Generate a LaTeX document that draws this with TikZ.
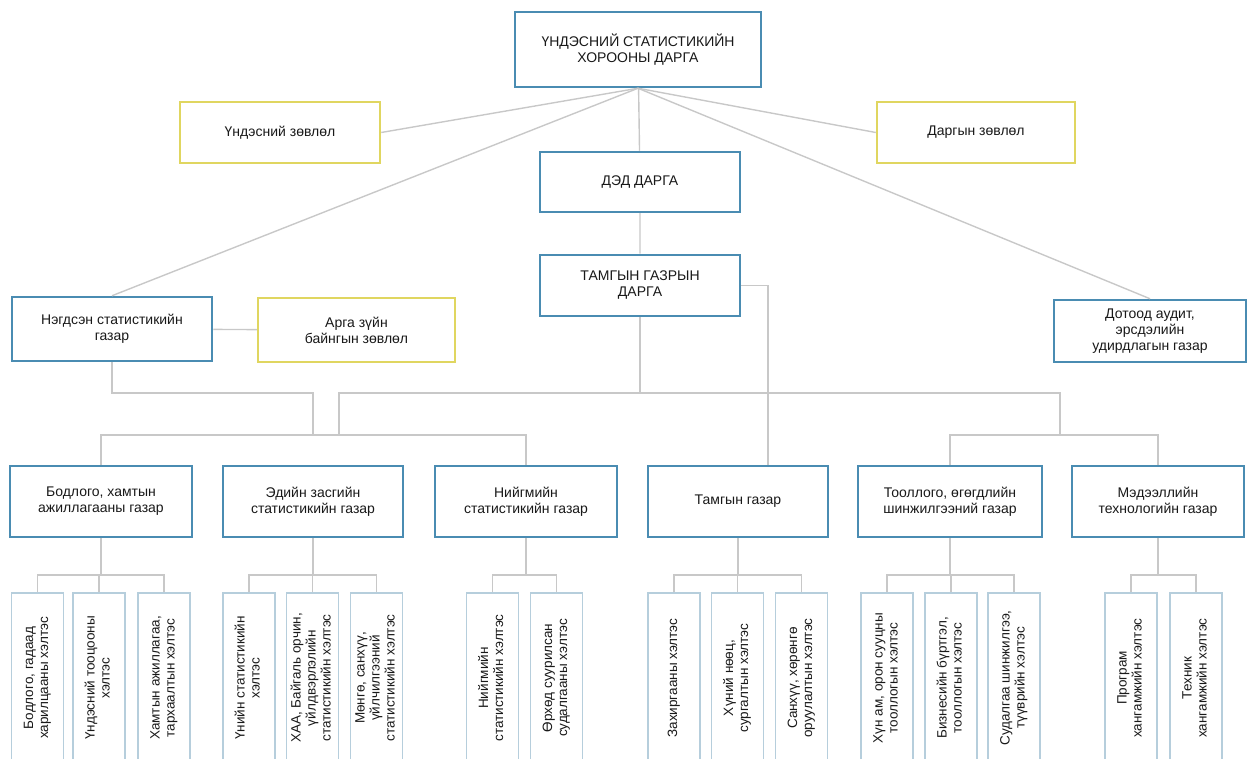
\documentclass[tikz,border=0pt]{standalone}
\usepackage{fontspec}
\setmainfont{Liberation Sans}
\usetikzlibrary{calc}

\definecolor{boxblue}{RGB}{74,140,178}
\definecolor{councilyellow}{RGB}{224,214,96}
\definecolor{unitblue}{RGB}{182,206,220}
\definecolor{linegray}{RGB}{200,200,200}
\definecolor{ink}{RGB}{25,25,25}

\newcommand{\vlabel}[1]{\rotatebox{90}{\begin{tabular}{@{}c@{}}#1\end{tabular}}}

\begin{document}
\begin{tikzpicture}[x=1pt,y=-1pt,
  every node/.style={align=center,text=ink,inner sep=2pt,
    font=\fontsize{14}{16}\selectfont},
  office/.style={draw=boxblue,line width=2.5pt,fill=white},
  council/.style={draw=councilyellow,line width=2.5pt,fill=white},
  unit/.style={draw=unitblue,line width=1.2pt,fill=white,inner sep=0pt,
    minimum width=52pt,minimum height=170pt,
    font=\fontsize{13.5}{15}\selectfont},
  link/.style={draw=linegray,line width=1.4pt}]
\useasboundingbox (0,0) rectangle (1248,759);

% top of the tree
\node (chair) [office,minimum width=246pt,minimum height=75pt] at (638,49.5)
  {ҮНДЭСНИЙ СТАТИСТИКИЙН\\ХОРООНЫ ДАРГА};
\node (deputy) [office,minimum width=200pt,minimum height=60pt] at (640,182)
  {ДЭД ДАРГА};
\node (secr) [office,minimum width=200pt,minimum height=61pt] at (640,285.5)
  {ТАМГЫН ГАЗРЫН\\ДАРГА};
\node (natc) [council,minimum width=200pt,minimum height=61pt] at (280,132.5)
  {Үндэсний зөвлөл};
\node (chairc) [council,minimum width=198pt,minimum height=61pt] at (976,132.5)
  {Даргын зөвлөл};
\node (nso) [office,minimum width=200pt,minimum height=64pt] at (112,329)
  {Нэгдсэн статистикийн\\газар};
\node (method) [council,minimum width=197pt,minimum height=64pt] at (356.5,330)
  {Арга зүйн\\байнгын зөвлөл};
\node (audit) [office,minimum width=192pt,minimum height=62pt] at (1150,331)
  {Дотоод аудит,\\эрсдэлийн\\удирдлагын газар};

% departments
\foreach \n/\x/\w/\t in {
  d1/101/182/{Бодлого, хамтын\\ажиллагааны газар},
  d2/313/180/{Эдийн засгийн\\статистикийн газар},
  d3/526/182/{Нийгмийн\\статистикийн газар},
  d4/738/180/{Тамгын газар},
  d5/950/184/{Тооллого, өгөгдлийн\\шинжилгээний газар},
  d6/1158/172/{Мэдээллийн\\технологийн газар}}
  \node (\n) [office,minimum width=\w pt,minimum height=71pt] at (\x,501.5) {\t};

% units, cut off by the lower edge
\foreach \n/\x/\t in {
  l1/37.5/{Бодлого, гадаад\\харилцааны хэлтэс},
  l2/99/{Үндэсний тооцооны\\хэлтэс},
  l3/164/{Хамтын ажиллагаа,\\тархаалтын хэлтэс},
  l4/249/{Үнийн статистикийн\\хэлтэс},
  l5/312.5/{ХАА, Байгаль орчин,\\үйлдвэрлэлийн\\статистикийн хэлтэс},
  l6/376.5/{Мөнгө, санхүү,\\үйлчилгээний\\статистикийн хэлтэс},
  l7/492.5/{Нийгмийн\\статистикийн хэлтэс},
  l8/556.5/{Өрхөд суурилсан\\судалгааны хэлтэс},
  l9/674/{Захиргааны хэлтэс},
  l10/737.5/{Хүний нөөц,\\сургалтын хэлтэс},
  l11/801.5/{Санхүү, хөрөнгө\\оруулалтын хэлтэс},
  l12/887/{Хүн ам, орон сууцны\\тооллогын хэлтэс},
  l13/951/{Бизнесийн бүртгэл,\\тооллогын хэлтэс},
  l14/1014/{Судалгаа шинжилгээ,\\түүврийн хэлтэс},
  l15/1131/{Програм\\хангамжийн хэлтэс},
  l16/1196/{Техник\\хангамжийн хэлтэс}}
  \node (\n) [unit] at (\x,678) {\vlabel{\t}};

% bus levels
\coordinate (busA) at (0,393);
\coordinate (busB) at (0,435);
\coordinate (busC) at (0,575);
\coordinate (jL) at (339,393);
\coordinate (jR) at (1060,393);

% links
\foreach \n/\a in {natc/east,chairc/west,nso/north,audit/north}
  \draw [link] (chair.south) -- (\n.\a);
\draw [link] (chair) -- (deputy) (deputy) -- (secr)
  (nso) -- (method);
\draw [link] (secr.east) -| ([xshift=30pt]d4.north);
\draw [link] (secr.south) -- (secr.south |- busA);
\draw [link] (nso.south) |- (d2.north |- busA) -- (d2.north |- busB);
\draw [link] (jL |- busB) -- (jL) -- (jR) -- (jR |- busB);
\draw [link] (d1.north) |- (d3.north |- busB) -- (d3.north);
\draw [link] (d5.north) |- (d6.north |- busB) -- (d6.north);

\foreach \d/\a/\b in {d1/l1/l3,d2/l4/l6,d3/l7/l8,d4/l9/l11,d5/l12/l14,d6/l15/l16}
  \draw [link] (\d.south) -- (\d.south |- busC)
    (\a.north) |- (\b.north |- busC) -- (\b.north);
\foreach \m in {l2,l5,l10,l13}
  \draw [link] (\m.north) -- (\m.north |- busC);
\end{tikzpicture}
\end{document}
